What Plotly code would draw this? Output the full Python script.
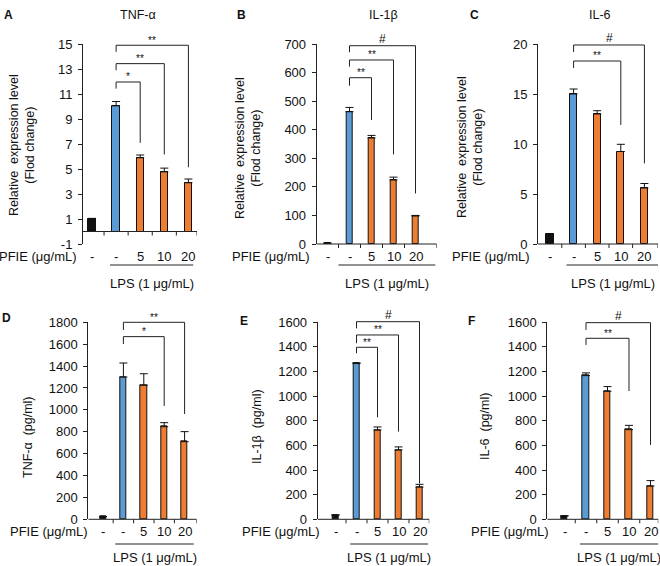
import plotly.graph_objs as go
from plotly.subplots import make_subplots

W, H = 660, 566
FONT = "Arial, Liberation Sans, sans-serif"

# Data
dose_labels = ["-", "-", "5", "10", "20"]
bar_colors = ["#111111", "#5b9bd5", "#ed7d31", "#ed7d31", "#ed7d31"]

tnf_mrna = [1.0, 10.05, 5.9, 4.77, 3.9]
tnf_mrna_err = [0.05, 0.35, 0.22, 0.3, 0.3]
il1b_mrna = [3, 463, 371, 224, 98]
il1b_mrna_err = [0, 15, 9, 10, 2]
il6_mrna = [1.0, 15.0, 13.0, 9.25, 5.6]
il6_mrna_err = [0, 0.5, 0.33, 0.72, 0.45]
tnf_elisa = [25, 1300, 1225, 846, 709]
tnf_elisa_err = [0, 128, 105, 37, 92]
il1b_elisa = [35, 1265, 725, 563, 262]
il1b_elisa_err = [0, 6, 25, 25, 22]
il6_elisa = [28, 1167, 1040, 728, 270]
il6_elisa_err = [0, 22, 38, 35, 44]

# tick labels
tnf_mrna_ticks = [-1, 1, 3, 5, 7, 9, 11, 13, 15]
il1b_mrna_ticks = [0, 100, 200, 300, 400, 500, 600, 700]
il6_mrna_ticks = [0, 5, 10, 15, 20]
tnf_elisa_ticks = [0, 200, 400, 600, 800, 1000, 1200, 1400, 1600, 1800]
elisa_ticks = [0, 200, 400, 600, 800, 1000, 1200, 1400, 1600]

# significance brackets vs LPS: (target, label, top, left leg end, right leg end)
tnf_mrna_sig = [(2, "*", 11.96, 11.43, 7.09), (3, "**", 13.43, 12.9, 6.16), (4, "**", 14.9, 14.37, 5.14)]
il1b_mrna_sig = [(2, "**", 582, 554, 434), (3, "**", 644, 621, 314), (4, "#", 694, 671, 177)]
il6_mrna_sig = [(3, "**", 18.3, 17.6, 11.9), (4, "#", 19.9, 19.2, 8.07)]
tnf_elisa_sig = [(3, "*", 1669, 1602, 1036), (4, "**", 1800, 1730, 962)]
il1b_elisa_sig = [(2, "**", 1397, 1349, 829), (3, "**", 1497, 1430, 712), (4, "#", 1605, 1551, 292)]
il6_elisa_sig = [(3, "**", 1470, 1416, 1042), (4, "#", 1597, 1538, 604)]

# panel geometry (pixels in the 660x566 page)
panels = [
    dict(letter="A", letter_xy=(2, 15), title="TNF-α", title_x=138,
         ytitle="Relative  expression level<br>(Flod change)", ytitle_xy=(22, 145),
         vals=tnf_mrna, err=tnf_mrna_err, sig=tnf_mrna_sig, ticks=tnf_mrna_ticks, yr=(-1, 15),
         axis=(83, 197), c0=92, step=24.1, ypx=(44, 244), rows=(256, 265, 283), under=(0.75, 4.2), pfie=-4),
    dict(letter="B", letter_xy=(235, 15), title="IL-1β", title_x=383,
         ytitle="Relative  expression level<br>(Flod change)", ytitle_xy=(248, 148),
         vals=il1b_mrna, err=il1b_mrna_err, sig=il1b_mrna_sig, ticks=il1b_mrna_ticks, yr=(0, 700),
         axis=(316.7, 436.7), c0=327.5, step=22, ypx=(44, 244), rows=(256, 265, 283), under=(0.5, 4.9), pfie=-5),
    dict(letter="C", letter_xy=(468, 15), title="IL-6", title_x=600,
         ytitle="Relative  expression level<br>(Flod change)", ytitle_xy=(470, 147),
         vals=il6_mrna, err=il6_mrna_err, sig=il6_mrna_sig, ticks=il6_mrna_ticks, yr=(0, 20),
         axis=(538, 658), c0=550, step=23.6, ypx=(44, 244), rows=(256, 265, 283), under=(0.7, 4.6), pfie=-6),
    dict(letter="D", letter_xy=(0, 318), title="", title_x=0,
         ytitle="TNF-α  (pg/ml)", ytitle_xy=(28, 437),
         vals=tnf_elisa, err=tnf_elisa_err, sig=tnf_elisa_sig, ticks=tnf_elisa_ticks, yr=(0, 1800),
         axis=(88.3, 196.7), c0=103, step=20.4, ypx=(322.3, 519.3), rows=(531, 544, 557.5), under=(0.6, 4.45), pfie=2),
    dict(letter="E", letter_xy=(238, 321), title="", title_x=0,
         ytitle="IL-1β  (pg/ml)", ytitle_xy=(257, 427),
         vals=il1b_elisa, err=il1b_elisa_err, sig=il1b_elisa_sig, ticks=elisa_ticks, yr=(0, 1600),
         axis=(317.7, 429.3), c0=335.5, step=21, ypx=(322.3, 519.3), rows=(531, 544, 557.5), under=(0.7, 4.4), pfie=4),
    dict(letter="F", letter_xy=(466, 321), title="", title_x=0,
         ytitle="IL-6  (pg/ml)", ytitle_xy=(485, 427),
         vals=il6_elisa, err=il6_elisa_err, sig=il6_elisa_sig, ticks=elisa_ticks, yr=(0, 1600),
         axis=(547.3, 658.3), c0=564.5, step=21.5, ypx=(322.3, 519.3), rows=(531, 544, 557.5), under=(0.72, 4.37), pfie=4),
]

def pyp(p):
    return 1 - p / H

def pxp(p):
    return p / W

fig = make_subplots(rows=2, cols=3)
shapes = []
annos = []
LINE = "#222222"
TXT = "#111111"

for n, pn in enumerate(panels):
    k = n + 1
    row, col = n // 3 + 1, n % 3 + 1
    xs = list(range(len(dose_labels)))
    fig.add_trace(go.Bar(
        x=xs, y=pn["vals"], width=0.3,
        marker=dict(color=bar_colors, line=dict(color=TXT, width=1)),
        error_y=dict(type="data", symmetric=False, array=pn["err"], arrayminus=[0] * 5,
                     color=TXT, thickness=1, width=4),
        showlegend=False, hoverinfo="skip"), row=row, col=col)

    x0, x1 = pn["axis"]
    xr = ((x0 - pn["c0"]) / pn["step"], (x1 - pn["c0"]) / pn["step"])
    r0, r1 = pn["yr"]
    ytop, ybot = pn["ypx"]
    yd = (pyp(ybot), pyp(ytop))
    xref = "x" if k == 1 else "x%d" % k

    def vy(v, r0=r0, r1=r1, yd=yd):
        return yd[0] + (v - r0) / (r1 - r0) * (yd[1] - yd[0])

    fig.update_xaxes(domain=[pxp(x0), pxp(x1)], range=list(xr), visible=False, automargin=False,
                     row=row, col=col)
    fig.update_yaxes(domain=list(yd), range=[r0, r1], showgrid=False, zeroline=False, automargin=False,
                     showline=True, linecolor=LINE, linewidth=1, ticks="outside", ticklen=4,
                     tickcolor=LINE, tickvals=pn["ticks"], ticktext=[str(t) for t in pn["ticks"]],
                     tickfont=dict(family=FONT, size=13, color=TXT), ticklabelstandoff=3,
                     row=row, col=col)

    # x axis line at zero, with tick marks between groups
    shapes.append(dict(type="line", xref=xref, yref="paper", x0=xr[0], x1=xr[1],
                       y0=vy(0), y1=vy(0), line=dict(color=LINE, width=1)))
    for t in [i + 0.5 for i in range(len(dose_labels) - 1)] + [xr[1]]:
        shapes.append(dict(type="line", xref=xref, yref="paper", x0=t, x1=t,
                           y0=vy(0), y1=vy(0) - 4 / H, line=dict(color=LINE, width=1)))

    # significance brackets
    for tgt, lab, top, lend, rend in pn["sig"]:
        shapes.append(dict(type="path", xref=xref, yref="paper",
                           path="M %f,%f L %f,%f L %f,%f L %f,%f" % (1, vy(lend), 1, vy(top), tgt, vy(top), tgt, vy(rend)),
                           line=dict(color=LINE, width=1)))
        annos.append(dict(text=lab, xref=xref, yref="paper", x=(1 + tgt) / 2, y=vy(top),
                          yanchor="middle", yshift=7 if lab == "#" else 5, showarrow=False,
                          font=dict(family=FONT, size=12 if lab == "#" else 10, color=TXT)))

    # category labels
    lab_y, und_y, lps_y = pn["rows"]
    for i, d in enumerate(dose_labels):
        annos.append(dict(text=d, xref=xref, yref="paper", x=i, y=pyp(lab_y), yanchor="middle",
                          showarrow=False, font=dict(family=FONT, size=13, color=TXT)))
    annos.append(dict(text="PFIE (μg/mL)", xref="paper", yref="paper", x=pxp(x0 + pn["pfie"]),
                      y=pyp(lab_y), xanchor="right", yanchor="middle", showarrow=False,
                      font=dict(family=FONT, size=13, color=TXT)))
    u0, u1 = pn["under"]
    shapes.append(dict(type="line", xref=xref, yref="paper", x0=u0, x1=u1,
                       y0=pyp(und_y), y1=pyp(und_y), line=dict(color=LINE, width=1)))
    annos.append(dict(text="LPS (1 μg/mL)", xref=xref, yref="paper", x=(u0 + u1) / 2,
                      y=pyp(lps_y), yanchor="middle", showarrow=False,
                      font=dict(family=FONT, size=13, color=TXT)))

    # titles
    tx, ty = pn["ytitle_xy"]
    annos.append(dict(text=pn["ytitle"], xref="paper", yref="paper", x=pxp(tx), y=pyp(ty),
                      xanchor="center", yanchor="middle", textangle=-90, showarrow=False,
                      font=dict(family=FONT, size=12.5, color=TXT)))
    lx, ly = pn["letter_xy"]
    annos.append(dict(text="<b>%s</b>" % pn["letter"], xref="paper", yref="paper", x=pxp(lx),
                      y=pyp(ly), xanchor="left", yanchor="middle", showarrow=False,
                      font=dict(family=FONT, size=12, color=TXT)))
    if pn["title"]:
        annos.append(dict(text=pn["title"], xref="paper", yref="paper", x=pxp(pn["title_x"]),
                          y=pyp(15), xanchor="center", yanchor="middle", showarrow=False,
                          font=dict(family=FONT, size=12.5, color=TXT)))

fig.update_layout(width=W, height=H, margin=dict(l=0, r=0, t=0, b=0, autoexpand=False),
                  paper_bgcolor="white", plot_bgcolor="white", bargap=0,
                  shapes=shapes, annotations=annos, font=dict(family=FONT))

# the page body has a default 8px margin; drop it so the figure sits at the window corner
fig.write_html("out.html", config={"displayModeBar": False},
               post_script="document.body.style.margin='0px';")
